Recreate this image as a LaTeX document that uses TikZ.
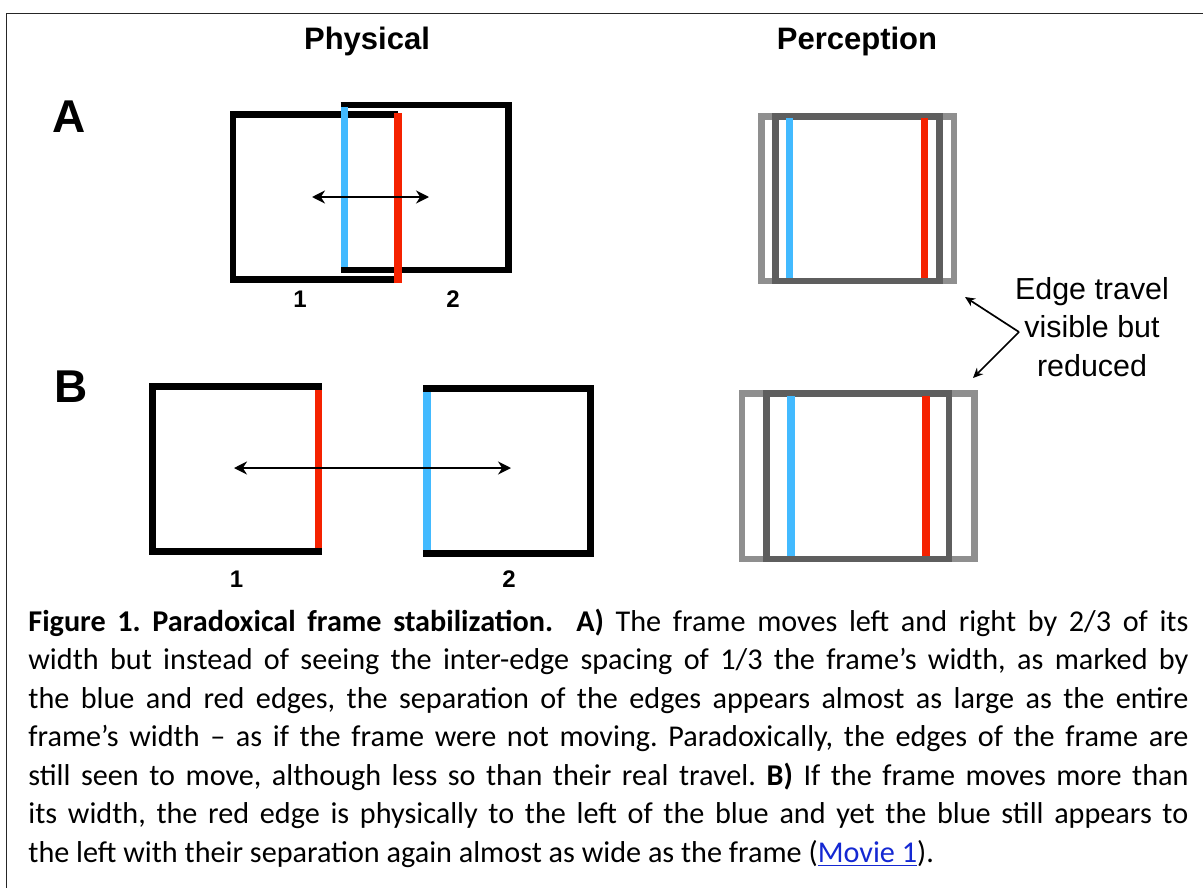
\documentclass[tikz,border=0pt]{standalone}
\usepackage{xcolor}
\usepackage{fontspec}
\setmainfont{Carlito}
\newfontfamily\helv{Liberation Sans}
\usepackage{tikz}
\usetikzlibrary{arrows.meta,positioning,calc}

\definecolor{edgeblue}{RGB}{66,186,255}
\definecolor{edgered}{RGB}{245,34,0}
\definecolor{farframe}{RGB}{143,143,143}
\definecolor{nearframe}{RGB}{94,94,94}
\definecolor{linkblue}{RGB}{20,40,210}

\begin{document}
\begin{tikzpicture}[
    x=0.5pt, y=-0.5pt,
    physframe/.style={line width=3.25pt, draw=black},
    blueline/.style={line width=3.6pt, draw=edgeblue},
    redline/.style={line width=3.6pt, draw=edgered},
    farline/.style={line width=3.25pt, draw=farframe},
    nearline/.style={line width=3.25pt, draw=nearframe},
    motion/.style={line width=1pt, {Stealth[length=6.5pt,width=6.5pt]}-{Stealth[length=6.5pt,width=6.5pt]}},
    pointer/.style={line width=0.85pt, -{Stealth[length=5pt,width=4.5pt]}},
    hdr/.style={font=\helv\bfseries\fontsize{15.5}{18}\selectfont, inner sep=0pt},
    panel/.style={font=\helv\bfseries\fontsize{23}{26}\selectfont, inner sep=0pt},
    numlbl/.style={font=\helv\bfseries\fontsize{12}{14}\selectfont, inner sep=0pt},
    note/.style={font=\helv\fontsize{15.2}{19.25}\selectfont, align=center, inner sep=0pt},
    caption/.style={font=\fontsize{15.1}{19.25}\selectfont\frenchspacing, text width=580pt, align=justify, inner sep=0pt},
    border/.style={line width=0.75pt, draw=black!85}
]
\useasboundingbox (0,0) rectangle (1203,888);

% outer border
\draw[border] (1203,13.5) -- (6.5,13.5) -- (6.5,888);

% column headers and panel letters
\node[hdr, anchor=base] (phys) at (367,50) {Physical};
\node[hdr, anchor=base] (perc) at (857,50) {Perception};
\node[panel] (pA) at (69,117) {A};
\node[panel] (pB) at (71.5,387) {B};

% A: physical frames, overlapping
\draw[physframe] (398,114.5) -- (233,114.5) -- (233,279.5) -- (398,279.5);
\draw[physframe] (340.6,105) -- (508.5,105) -- (508.5,270) -- (340.6,270);
\draw[blueline] (344.5,107) -- (344.5,267);
\draw[redline] (398,113) -- (398,283);
\draw[motion] (312,197) -- (429,197);
\node[numlbl] (a1) at (300,299) {1};
\node[numlbl] (a2) at (453,299) {2};

% A: perceived frame
\draw[farline] (761.25,116.25) rectangle (953.75,280.75);
\draw[nearline] (775.25,116.25) rectangle (939.25,280.75);
\draw[blueline] (789.5,118) -- (789.5,278);
\draw[redline] (924.5,118) -- (924.5,278);

% B: physical frames, apart
\draw[physframe] (321.5,386.5) -- (152.5,386.5) -- (152.5,551.5) -- (321.5,551.5);
\draw[physframe] (423,388.5) -- (590.5,388.5) -- (590.5,553.5) -- (423,553.5);
\draw[redline] (318.5,390) -- (318.5,548);
\draw[blueline] (427,392) -- (427,550);
\draw[motion] (234,468) -- (511,468);
\node[numlbl] (b1) at (236.5,579) {1};
\node[numlbl] (b2) at (509,579) {2};

% B: perceived frame
\draw[farline] (741.75,393.25) rectangle (974.5,558.75);
\draw[nearline] (766.6,393.25) rectangle (948.75,558.75);
\draw[blueline] (791,396) -- (791,556);
\draw[redline] (926,396) -- (926,556);

% note with its two arrows
\node[note] (travel) at (1092,327) {Edge travel\\visible but\\reduced};
\coordinate (fork) at (1019,332);
\coordinate (tipA) at (965,297);
\coordinate (tipB) at (973,378);
\draw[pointer] (fork) -- (tipA);
\draw[pointer] (fork) -- (tipB);

% caption
\node[caption, anchor=base west] (cap) at (28,631) {\textbf{Figure 1. Paradoxical frame stabilization.\ \ A)} The frame moves left and right by 2/3 of its\linebreak
width but instead of seeing the inter-edge spacing of 1/3 the frame’s width, as marked by\linebreak
the blue and red edges, the separation of the edges appears almost as large as the entire\linebreak
frame’s width -- as if the frame were not moving. Paradoxically, the edges of the frame are\linebreak
still seen to move, although less so than their real travel. \textbf{B)} If the frame moves more than\linebreak
its width, the red edge is physically to the left of the blue and yet the blue still appears to\linebreak
the left with their separation again almost as wide as the frame (\textcolor{linkblue}{\underline{Movie 1}}).};

\end{tikzpicture}
\end{document}
